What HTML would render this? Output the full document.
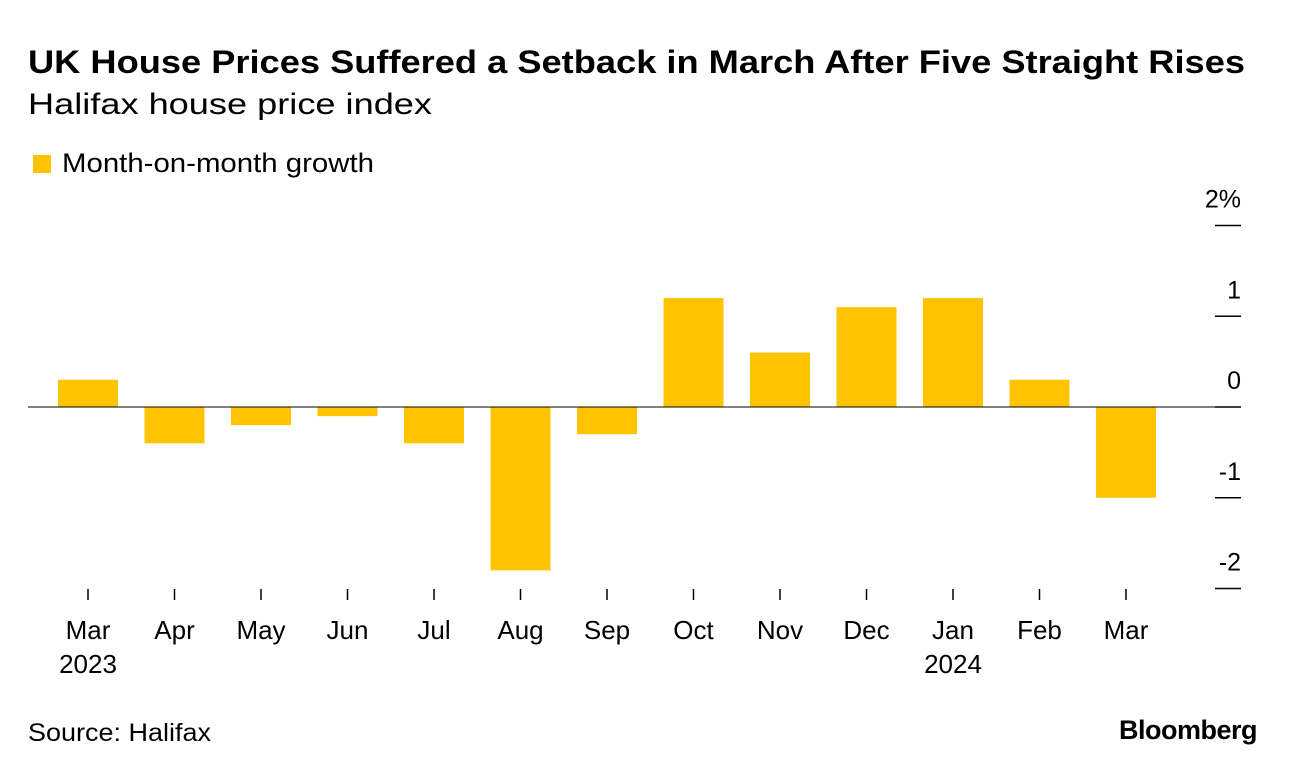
<!DOCTYPE html>
<html><head><meta charset="utf-8"><style>
body{margin:0;background:#fff;width:1296px;height:774px;overflow:hidden;font-family:"Liberation Sans",Arial,sans-serif;}
</style></head><body>
<svg width="1296" height="774" xmlns="http://www.w3.org/2000/svg" font-family="Liberation Sans, Arial, sans-serif">
<text x="28" y="73" font-size="32" font-weight="bold" fill="#000" textLength="1217" lengthAdjust="spacingAndGlyphs">UK House Prices Suffered a Setback in March After Five Straight Rises</text>
<text x="28" y="114" font-size="30" fill="#000" textLength="404" lengthAdjust="spacingAndGlyphs">Halifax house price index</text>
<rect x="33" y="155" width="18" height="18" fill="#ffc300"/>
<text x="62" y="172" font-size="27" fill="#000" textLength="312" lengthAdjust="spacingAndGlyphs">Month-on-month growth</text>
<g id="bars"></g>
<g id="yaxis"></g>
<g id="xaxis"></g>
<text x="28" y="741" font-size="25" fill="#000" textLength="183" lengthAdjust="spacingAndGlyphs">Source: Halifax</text>
<text x="1257" y="739" font-size="27" font-weight="bold" fill="#000" text-anchor="end" letter-spacing="-0.5">Bloomberg</text>
</svg>
<script>
const categories=["Mar","Apr","May","Jun","Jul","Aug","Sep","Oct","Nov","Dec","Jan","Feb","Mar"];
const years=["2023","","","","","","","","","","2024","",""];
const values=[0.3,-0.4,-0.2,-0.1,-0.4,-1.8,-0.3,1.2,0.6,1.1,1.2,0.3,-1.0];
const yTicks=[2,1,0,-1,-2];
const yTickLabels=["2%","1","0","-1","-2"];
const NS="http://www.w3.org/2000/svg";
const y=v=>407-v*90.75;
const x=i=>88+i*86.5;
function mk(t,a,p){const e=document.createElementNS(NS,t);for(const k in a)e.setAttribute(k,a[k]);p.appendChild(e);return e;}
const gb=document.getElementById('bars'),gy=document.getElementById('yaxis'),gx=document.getElementById('xaxis');
yTicks.forEach((v,i)=>{
 const l=mk('line',{x1:1215,x2:1241,y1:y(v),y2:y(v),stroke:'#000','stroke-width':1.5},gy);
 
 
 const t=mk('text',{x:1241,y:y(v)-18,'font-size':25,'text-anchor':'end',fill:'#000'},gy);
 t.textContent=yTickLabels[i];
 
 
});
values.forEach((v,i)=>{
 const r=mk('rect',{x:x(i)-30,width:60,y:Math.min(y(v),y(0)),height:Math.abs(y(v)-y(0)),fill:'#ffc300'},gb);
 
 
});
const z=mk('line',{x1:28,x2:1241,y1:y(0),y2:y(0),stroke:'#000','stroke-width':1},gb);


categories.forEach((c,i)=>{
 const l=mk('line',{x1:x(i),x2:x(i),y1:589,y2:600,stroke:'#000','stroke-width':1.5},gx);
 
 
 const t=mk('text',{x:x(i),y:639,'font-size':26,'text-anchor':'middle',fill:'#000'},gx);
 t.textContent=c;
 
 
 if(years[i]){
  const yt=mk('text',{x:x(i),y:673,'font-size':26,'text-anchor':'middle',fill:'#000'},gx);
  yt.textContent=years[i];
  
  
 }
});
</script>
</body></html>
